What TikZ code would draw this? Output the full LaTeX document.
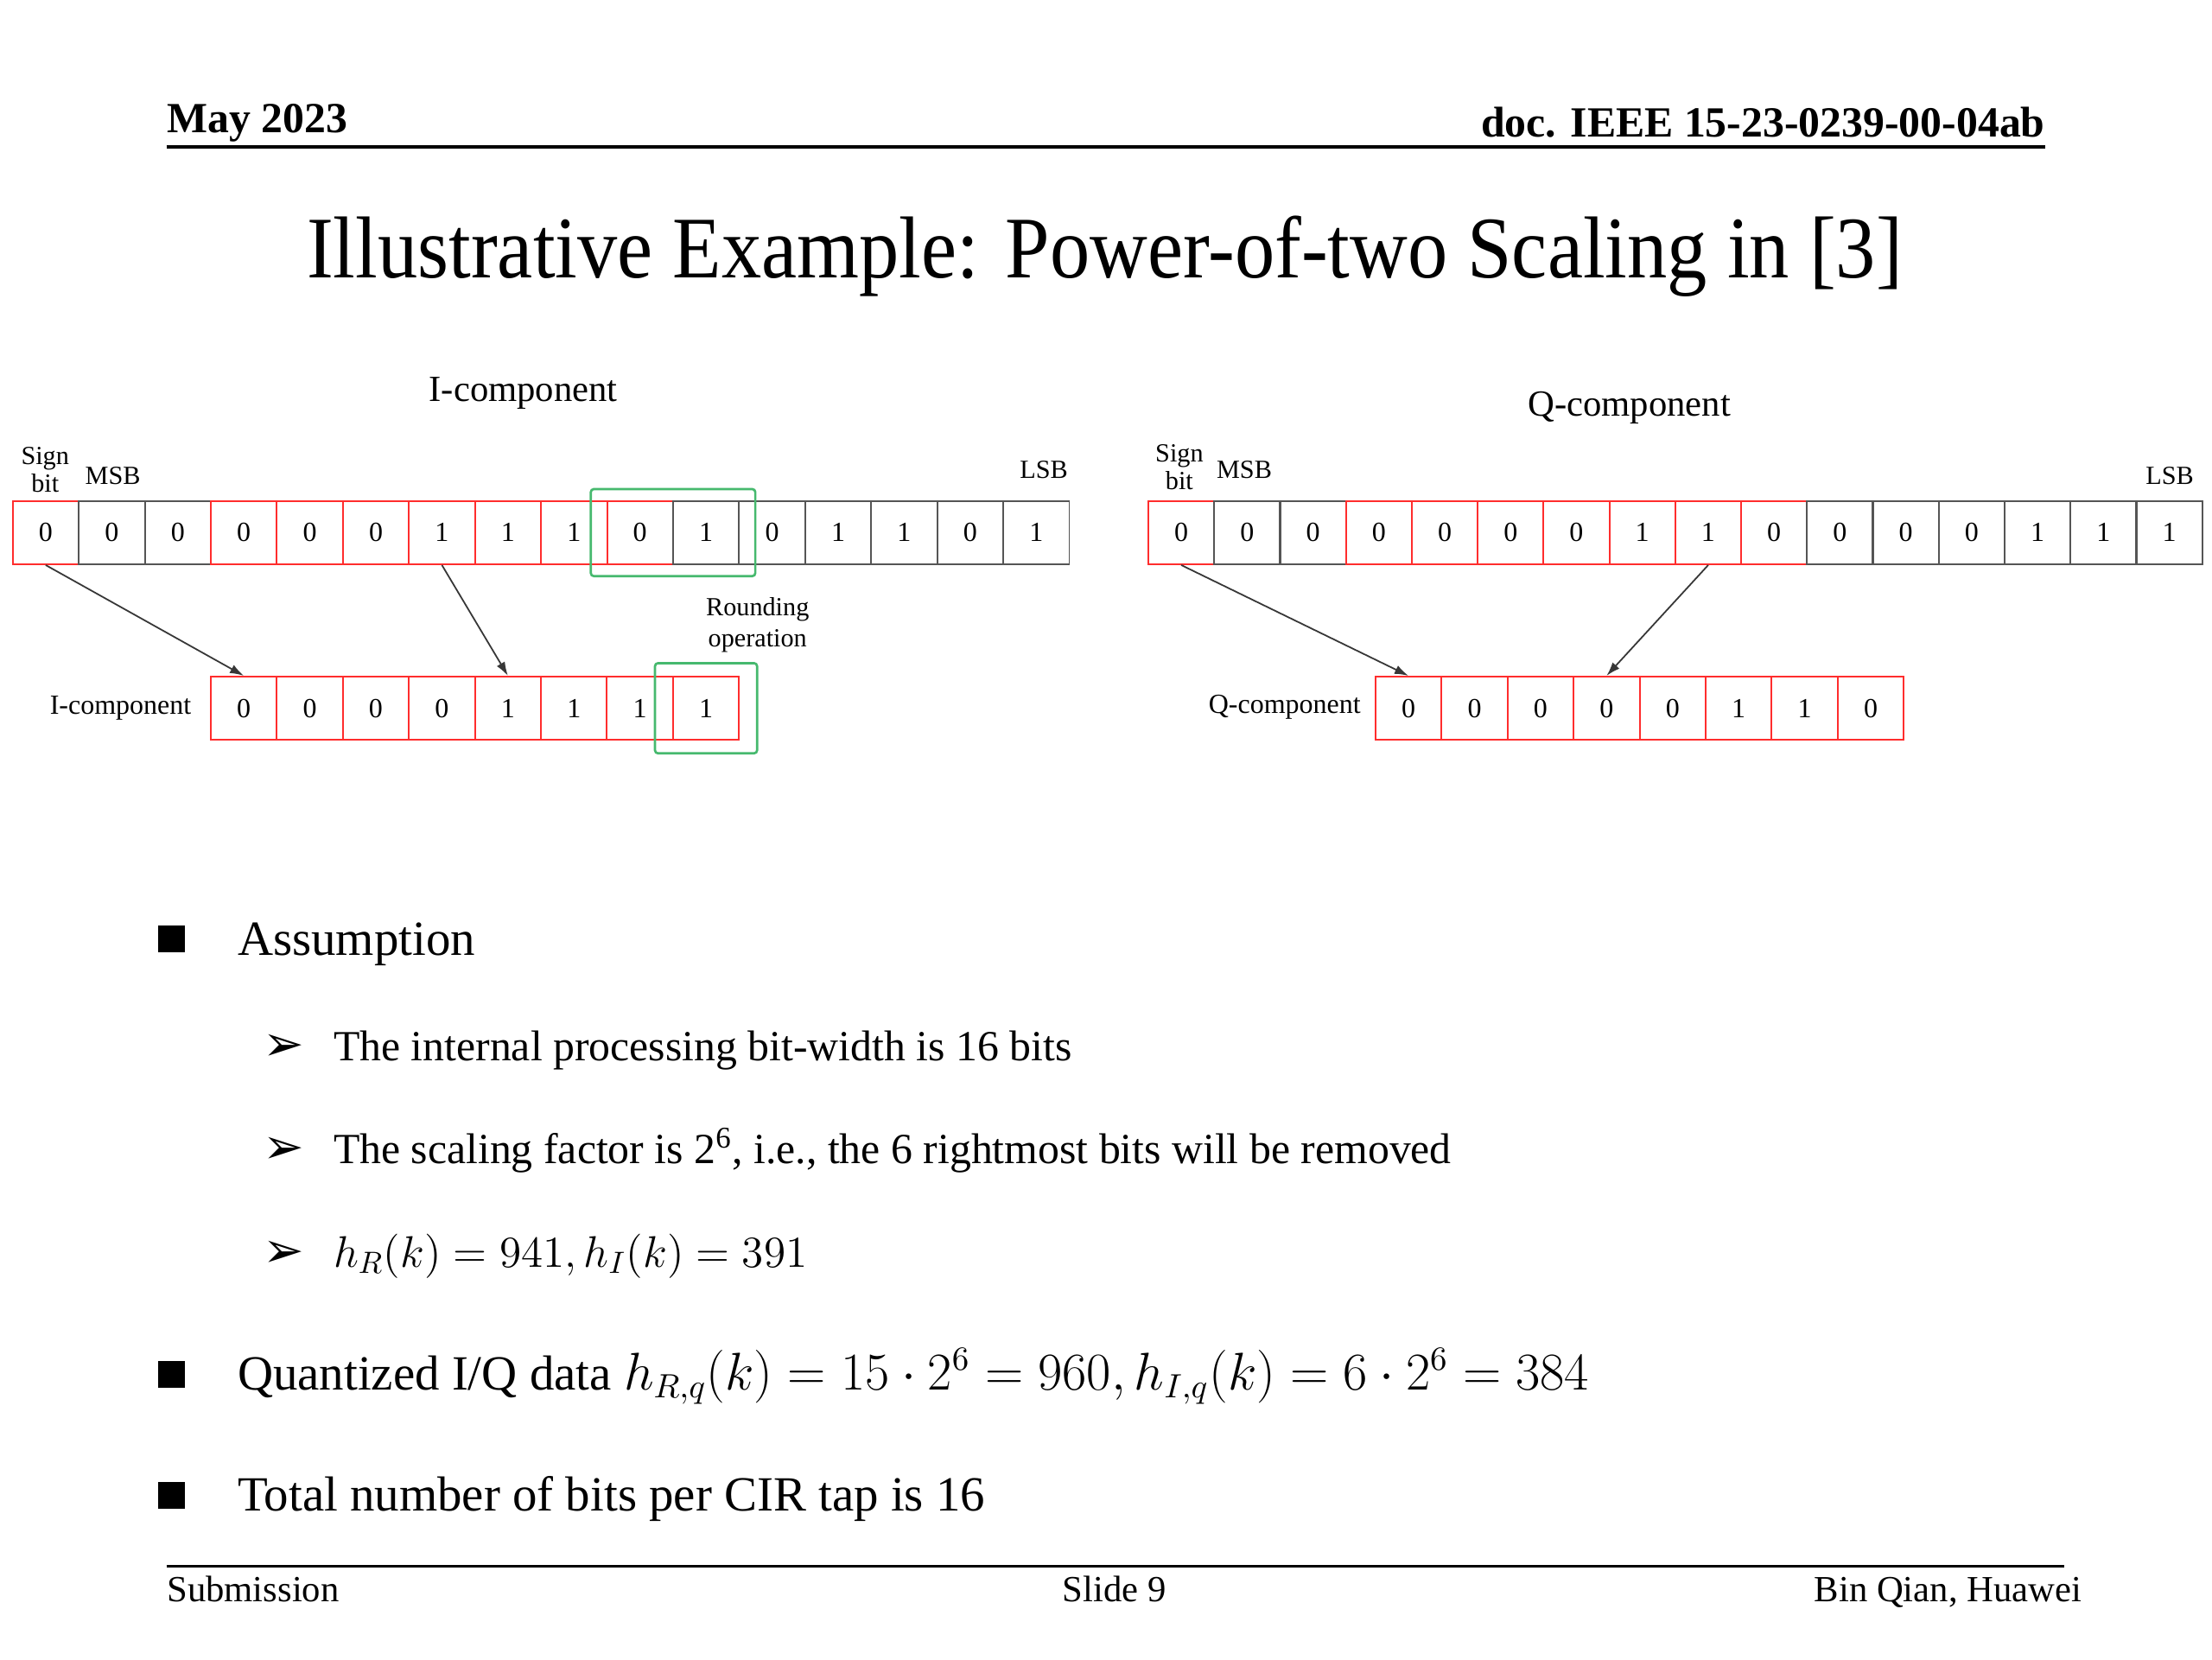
\documentclass[tikz,border=0pt]{standalone}
\usepackage{fontspec}
\setmainfont{Liberation Serif}
\newfontfamily\dejavu{DejaVu Sans}
\usetikzlibrary{arrows.meta,fit}
\definecolor{cellred}{RGB}{255,45,45}
\definecolor{cellgray}{RGB}{85,85,85}
\definecolor{rgreen}{RGB}{70,185,110}
\definecolor{arrgray}{RGB}{55,55,55}
\begin{document}
\begin{tikzpicture}[x=0.4592pt,y=-0.4592pt,
  cellbase/.style={rectangle, minimum width=21.5pt, minimum height=20.6pt, inner sep=0pt, line width=0.55pt, font=\fontsize{9}{10}\selectfont},
  rc/.style={cellbase, draw=cellred},
  bc/.style={cellbase, draw=cellgray},
  gbox/.style={draw=rgreen, line width=0.75pt, rounded corners=1pt},
  arr/.style={draw=arrgray, line width=0.5pt, -{Latex[length=4.5pt,width=3pt]}},
  small/.style={font=\fontsize{8.5}{9}\selectfont, align=center, inner sep=0pt},
  comptitle/.style={font=\fontsize{12}{14}\selectfont, inner sep=0pt},
  sqbullet/.style={fill=black, minimum size=8.7pt, inner sep=0pt},
  subarrow/.style={font=\dejavu\fontsize{16}{18}\selectfont, inner sep=0pt, anchor=base west},
  mainitem/.style={font=\fontsize{16}{18}\selectfont, inner sep=0pt, anchor=base west},
  subitem/.style={font=\fontsize{14}{16}\selectfont, inner sep=0pt, anchor=base west},
  header/.style={font=\fontsize{14}{16}\selectfont\bfseries, inner sep=0pt},
  footer/.style={font=\fontsize{12}{14}\selectfont, inner sep=0pt},
  rule/.style={line width=1pt, black}
]
\fill[white] (0,0) rectangle (1568,1176);
\useasboundingbox (0,0) rectangle (1568,1176);

% header
\node[header, anchor=base west] (date) at (118,94) {May 2023};
\node[header, anchor=base east] (doc) at (1450,97) {doc. IEEE 15-23-0239-00-04ab};
\coordinate (hl) at (118,104);
\coordinate (hr) at (1450,104);
\draw[rule] (hl) -- (hr);

% title
\node[font=\fontsize{26}{30}\selectfont, inner sep=0pt, anchor=base, yscale=1.1] (title) at (783,197) {Illustrative Example: Power-of-two Scaling in [3]};

% ---------- I component ----------
\node[comptitle] (Ititle) at (371,279) {I-component};
\node[small] (Isign) at (32,333) {Sign\\bit};
\node[small] (Imsb) at (80,337) {MSB};
\node[small] (Ilsb) at (740,333) {LSB};
\foreach \v/\s [count=\i from 0] in {0/rc,0/bc,0/bc,0/rc,0/rc,0/rc,1/rc,1/rc,1/rc,0/rc,1/bc,0/bc,1/bc,1/bc,0/bc,1/bc}
  \node[\s] (I\i) at ({9+46.81*(\i+0.5)},377.5) {\v};
\foreach \v [count=\i from 0] in {0,0,0,0,1,1,1,1}
  \node[rc] (IB\i) at ({149.4+46.81*(\i+0.5)},502) {\v};
\node[gbox, fit=(I9)(I10), inner xsep=5pt, inner ysep=3.6pt] (Igreen) {};
\node[gbox, fit=(IB7), inner xsep=5.6pt, inner ysep=4.1pt] (IBgreen) {};
\node[small, font=\fontsize{8.5}{10}\selectfont] (round) at (537,443) {Rounding\\operation};
\node[small, font=\fontsize{9}{10}\selectfont, anchor=east] (Ilabel) at (136,502) {I-component};
\draw[arr] (I0.south) -- (IB0.north);
\draw[arr] (I6.south) -- (IB4.north);

% ---------- Q component ----------
\node[comptitle] (Qtitle) at (1155,289) {Q-component};
\node[small] (Qsign) at (836,331) {Sign\\bit};
\node[small] (Qmsb) at (882,333) {MSB};
\node[small] (Qlsb) at (1538,337) {LSB};
\foreach \v/\s [count=\i from 0] in {0/rc,0/bc,0/bc,0/rc,0/rc,0/rc,0/rc,1/rc,1/rc,0/rc,0/bc,0/bc,0/bc,1/bc,1/bc,1/bc}
  \node[\s] (Q\i) at ({814+46.69*(\i+0.5)},377.5) {\v};
\foreach \v [count=\i from 0] in {0,0,0,0,0,1,1,0}
  \node[rc] (QB\i) at ({975+46.81*(\i+0.5)},502) {\v};
\node[small, font=\fontsize{9}{10}\selectfont, anchor=east] (Qlabel) at (965,501) {Q-component};
\draw[arr] (Q0.south) -- (QB0.north);
\draw[arr] (Q8.south) -- (QB3.north);

% ---------- bullets ----------
\node[sqbullet] (b1) at (121.5,665.5) {};
\node[mainitem] (t1) at (168,677) {Assumption};
\node[subarrow] (a1) at (186,752) {➢};
\node[subitem] (s1) at (236,752) {The internal processing bit-width is 16 bits};
\node[subarrow] (a2) at (186,825) {➢};
\node[subitem] (s2) at (236,825) {The scaling factor is 2\textsuperscript{6}, i.e., the 6 rightmost bits will be removed};
\node[subarrow] (a3) at (186,898) {➢};
\node[subitem] (s3) at (236,898) {$h_R(k) = 941, h_I(k) = 391$};
\node[sqbullet] (b2) at (121.5,974) {};
\node[mainitem] (t2) at (168,985) {Quantized I/Q data $h_{R,q}(k) = 15\cdot 2^6 = 960, h_{I,q}(k) = 6\cdot 2^6 = 384$};
\node[sqbullet] (b3) at (121.5,1060) {};
\node[mainitem] (t3) at (168,1071) {Total number of bits per CIR tap is 16};

% footer
\coordinate (fl) at (118,1110);
\coordinate (fr) at (1463,1110);
\draw[rule] (fl) -- (fr);
\node[footer, anchor=base west] (sub) at (118,1135) {Submission};
\node[footer, anchor=base] (slide) at (790,1135) {Slide 9};
\node[footer, anchor=base east] (auth) at (1476,1135) {Bin Qian, Huawei};
\end{tikzpicture}
\end{document}
